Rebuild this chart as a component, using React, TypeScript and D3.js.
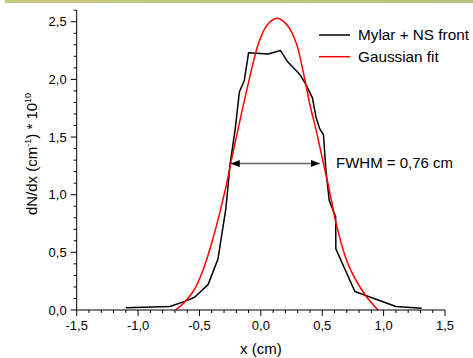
import React from "react";
import * as d3 from "d3";

const measuredX = [-1.10, -0.74, -0.62, -0.54, -0.43, -0.35, -0.285, -0.25, -0.21, -0.175, -0.135, -0.10, 0.06, 0.16, 0.22, 0.32, 0.37, 0.42, 0.45, 0.48, 0.51, 0.53, 0.557, 0.609, 0.611, 0.766, 1.10, 1.31];
const measuredY = [0.02, 0.03, 0.075, 0.11, 0.22, 0.44, 0.88, 1.27, 1.56, 1.89, 1.99, 2.23, 2.22, 2.25, 2.15, 2.04, 1.95, 1.84, 1.67, 1.57, 1.52, 1.21, 0.95, 0.81, 0.53, 0.16, 0.03, 0.015];

const fitX = [-0.695, -0.62, -0.54, -0.47, -0.39, -0.28, -0.24, -0.175, -0.09, -0.02, 0.05, 0.133, 0.215, 0.29, 0.35, 0.40, 0.45, 0.50, 0.55, 0.62, 0.71, 0.85, 0.955];
const fitY = [0, 0.07, 0.18, 0.35, 0.62, 1.09, 1.3, 1.62, 2.02, 2.31, 2.47, 2.53, 2.47, 2.31, 2.04, 1.78, 1.56, 1.32, 1.08, 0.72, 0.40, 0.13, 0];

const xTicks = [-1.5, -1.0, -0.5, 0.0, 0.5, 1.0, 1.5];
const yTicks = [0.0, 0.5, 1.0, 1.5, 2.0, 2.5];
const fwhm = { x0: -0.245, x1: 0.48, y: 1.27, label: "FWHM = 0,76 cm" };
const legendItems = [
  { label: "Mylar + NS front", color: "#000000" },
  { label: "Gaussian fit", color: "#ff0000" },
];

const fmt = (v: number) => v.toFixed(1).replace(".", ",");

export default function App() {
  const W = 473, H = 358;
  const x = d3.scaleLinear().domain([-1.5, 1.5]).range([76.7, 445]);
  const y = d3.scaleLinear().domain([0, 2.6]).range([310, 10.2]);

  const measured = measuredX.map((v, i) => [v, measuredY[i]] as [number, number]);
  const fit = fitX.map((v, i) => [v, fitY[i]] as [number, number]);

  const lineM = d3.line<[number, number]>().x(d => x(d[0])).y(d => y(d[1]));
  const lineF = d3.line<[number, number]>().x(d => x(d[0])).y(d => y(d[1])).curve(d3.curveCatmullRom.alpha(0.5));

  const xMinor = d3.range(-15, 16).map(i => i / 10).filter(v => Math.abs(Math.round(v * 10) % 5) !== 0);
  const yMinor = d3.range(0, 27).map(i => i / 10).filter(v => Math.round(v * 10) % 5 !== 0);

  const font = "Arial, 'Liberation Sans', sans-serif";
  const ax = x(-1.5);
  const ay = y(0);

  return (
    <svg width={W} height={H} style={{ position: "absolute", left: 0, top: 0, background: "#fff" }} fontFamily={font}>
      <defs>
        <linearGradient id="band" x1="0" x2="1" y1="0" y2="0">
          <stop offset="0" stopColor="#c3c97f" />
          <stop offset="1" stopColor="#b9c27c" />
        </linearGradient>
        <marker id="arrL" viewBox="0 0 10 10" refX="0" refY="5" markerWidth="9" markerHeight="9" markerUnits="userSpaceOnUse" orient="auto">
          <path d="M10,1 L0,5 L10,9 Z" fill="#000" />
        </marker>
        <marker id="arrR" viewBox="0 0 10 10" refX="10" refY="5" markerWidth="9" markerHeight="9" markerUnits="userSpaceOnUse" orient="auto">
          <path d="M0,1 L10,5 L0,9 Z" fill="#000" />
        </marker>
      </defs>
      <rect x={5} y={0} width={W - 5} height={3} fill="url(#band)" />

      {/* curves */}
      <path d={lineM(measured) || ""} fill="none" stroke="#000" strokeWidth={1.5} strokeLinejoin="round" />
      <path d={lineF(fit) || ""} fill="none" stroke="#ff0000" strokeWidth={1.5} />

      {/* axes */}
      <line x1={ax} x2={ax} y1={ay} y2={y(2.6)} stroke="#000" strokeWidth={1} />
      <line x1={ax} x2={x(1.5)} y1={ay} y2={ay} stroke="#000" strokeWidth={1} />
      {xTicks.map(t => (
        <g key={"xt" + t}>
          <line x1={x(t)} x2={x(t)} y1={ay} y2={ay + 6} stroke="#000" />
          <text x={x(t)} y={ay + 19.5} fontSize={13} textAnchor="middle" fill="#000">{fmt(t)}</text>
        </g>
      ))}
      {xMinor.map(t => (
        <line key={"xm" + t} x1={x(t)} x2={x(t)} y1={ay} y2={ay + 3} stroke="#000" />
      ))}
      {yTicks.map(t => (
        <g key={"yt" + t}>
          <line x1={ax - 6} x2={ax} y1={y(t)} y2={y(t)} stroke="#000" />
          <text x={ax - 10} y={y(t) + 4.5} fontSize={13} textAnchor="end" fill="#000">{fmt(t)}</text>
        </g>
      ))}
      {yMinor.map(t => (
        <line key={"ym" + t} x1={ax - 3} x2={ax} y1={y(t)} y2={y(t)} stroke="#000" />
      ))}

      {/* axis titles */}
      <text x={x(0)} y={354} fontSize={15} textAnchor="middle" fill="#000">x (cm)</text>
      <text transform={`translate(37,${154}) rotate(-90)`} fontSize={15} textAnchor="middle" fill="#000">
        dN/dx (cm<tspan dy={-6} fontSize={9}>-1</tspan><tspan dy={6}>) * 10</tspan><tspan dy={-6} fontSize={9}>10</tspan>
      </text>

      {/* FWHM arrow */}
      <line x1={x(fwhm.x0)} x2={x(fwhm.x1)} y1={y(fwhm.y)} y2={y(fwhm.y)} stroke="#666" strokeWidth={1.5}
        markerStart="url(#arrL)" markerEnd="url(#arrR)" />
      <text x={336} y={168} fontSize={15} fill="#000">{fwhm.label}</text>

      {/* legend */}
      {legendItems.map((d, i) => (
        <g key={d.label} transform={`translate(0,${35 + i * 21.7})`}>
          <line x1={319} x2={350} y1={0} y2={0} stroke={d.color} strokeWidth={1.5} />
          <text x={358} y={5.3} fontSize={15.3} fill="#000">{d.label}</text>
        </g>
      ))}
    </svg>
  );
}
